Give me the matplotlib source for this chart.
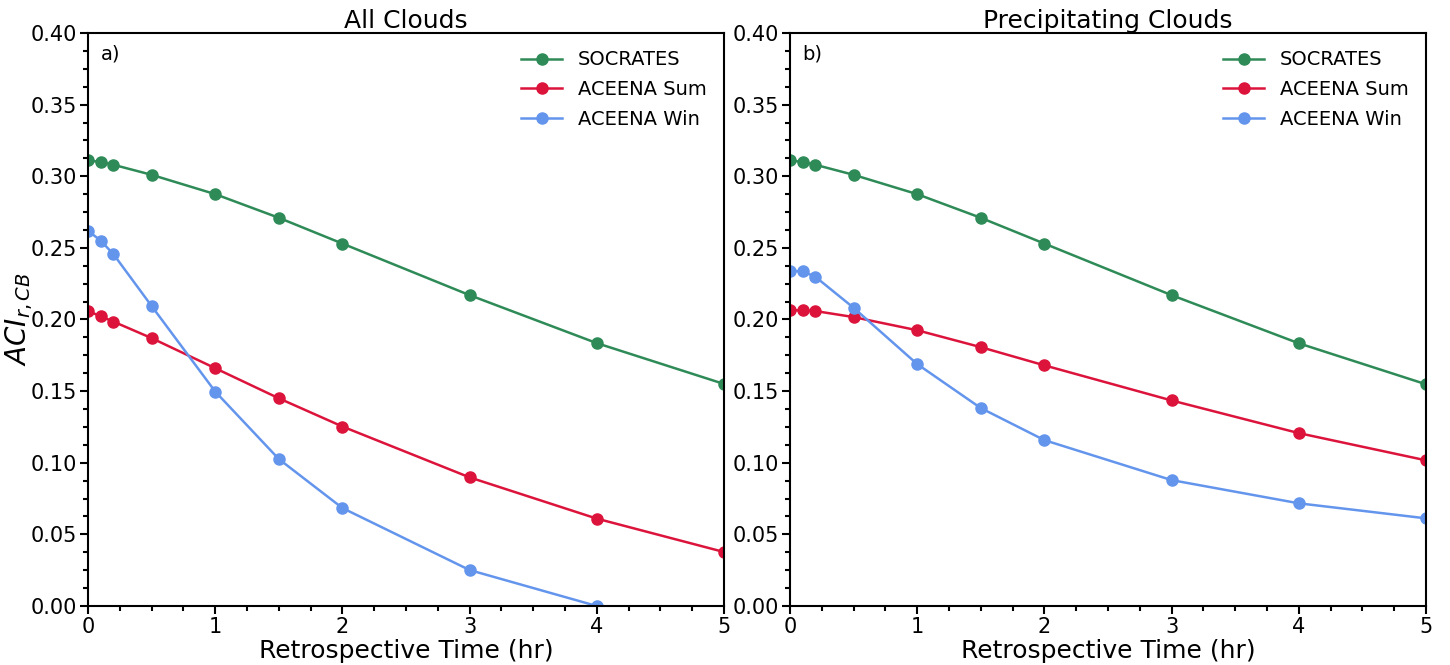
import matplotlib
matplotlib.use("Agg")
import matplotlib.pyplot as plt
from matplotlib.ticker import AutoMinorLocator

# retrospective time (hr)
t = [0, 0.1, 0.2, 0.5, 1, 1.5, 2, 3, 4, 5]

# a) all clouds
soc_all = [0.311, 0.310, 0.308, 0.301, 0.2875, 0.271, 0.253, 0.217, 0.1835, 0.155]
sum_all = [0.206, 0.2022, 0.1985, 0.187, 0.166, 0.145, 0.1253, 0.0898, 0.061, 0.0377]
win_all = [0.262, 0.255, 0.2456, 0.2094, 0.1497, 0.1026, 0.0684, 0.0251, 0.0, None]

# b) precipitating clouds
soc_pre = [0.311, 0.310, 0.308, 0.301, 0.2875, 0.271, 0.253, 0.217, 0.1834, 0.1548]
sum_pre = [0.2066, 0.2063, 0.2059, 0.2017, 0.1925, 0.1807, 0.168, 0.1435, 0.1207, 0.1017]
win_pre = [0.2339, 0.2336, 0.2298, 0.2082, 0.1689, 0.1382, 0.1158, 0.0879, 0.0717, 0.0612]

titles = ["All Clouds", "Precipitating Clouds"]
tags = ["a)", "b)"]
series = [(soc_all, sum_all, win_all), (soc_pre, sum_pre, win_pre)]
names = ["SOCRATES", "ACEENA Sum", "ACEENA Win"]
colors = ["seagreen", "crimson", "cornflowerblue"]

fig = plt.figure(figsize=(14.5, 6.65), dpi=100)
ax1 = fig.add_axes([0.0607, 0.0887, 0.4386, 0.8617])
ax2 = fig.add_axes([0.5448, 0.0887, 0.4386, 0.8617])

for ax, title, tag, data in zip([ax1, ax2], titles, tags, series):
    for y, name, c in zip(data, names, colors):
        xs = [a for a, b in zip(t, y) if b is not None]
        ys = [b for b in y if b is not None]
        ax.plot(xs, ys, "-o", color=c, label=name, lw=1.8, ms=8)
    ax.set_xlim(0, 5)
    ax.set_ylim(0, 0.4)
    ax.set_title(title, fontsize=18, pad=3)
    ax.set_xlabel("Retrospective Time (hr)", fontsize=18, labelpad=1)
    ax.xaxis.set_minor_locator(AutoMinorLocator(4))
    ax.yaxis.set_minor_locator(AutoMinorLocator(4))
    ax.tick_params(which="major", length=6, width=1.5, labelsize=15, pad=2)
    ax.tick_params(which="minor", length=3.5, width=1.5)
    for s in ax.spines.values():
        s.set_linewidth(1.5)
    ax.text(0.02, 0.98, tag, transform=ax.transAxes, fontsize=14, va="top")
    ax.legend(loc="upper right", frameon=False, fontsize=14,
              handlelength=2.1, labelspacing=0.55)

ax1.set_ylabel("$ACI_{r,CB}$", fontsize=20, labelpad=-3)

fig.savefig("out.png", dpi=100)
